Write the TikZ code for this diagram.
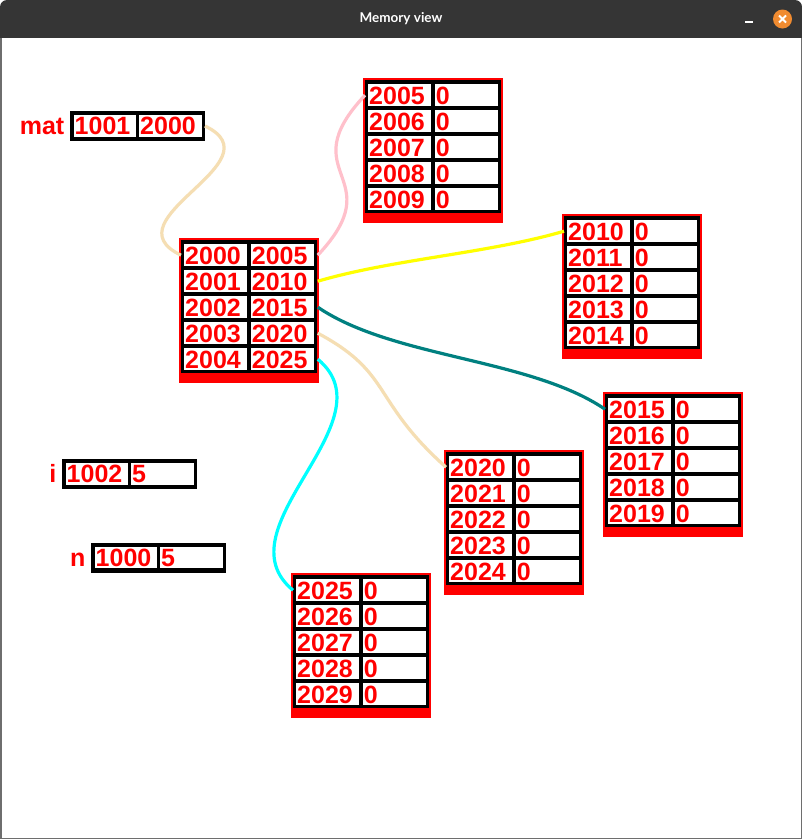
\documentclass[tikz,border=0pt]{standalone}
\usepackage{fontspec}
\setmainfont{Liberation Sans}
\newfontfamily\titlefont{Lato}
\usepackage{tikz}
\usetikzlibrary{positioning,calc}
\definecolor{memred}{HTML}{FF0000}
\definecolor{wheat}{HTML}{F5DEB3}
\definecolor{linkpink}{HTML}{FFC0CB}
\definecolor{linkyellow}{HTML}{FFFF00}
\definecolor{linkteal}{HTML}{008080}
\definecolor{linkcyan}{HTML}{00FFFF}
\definecolor{titlegray}{HTML}{353535}
\definecolor{framegray}{HTML}{6E6E6E}
\definecolor{closeorange}{HTML}{F08B30}
\tikzset{
  cell/.style={anchor=north west,fill=white,text=memred,inner xsep=1pt,inner ysep=0.5pt,
    text width=60.7pt,align=left,text height=19.5pt,text depth=1.5pt,
    font=\fontsize{25}{25}\selectfont\bfseries},
  smallcell/.style={cell,text width=60.5pt,text height=19pt},
  varname/.style={anchor=base east,inner sep=0pt,text=memred,font=\fontsize{25}{25}\selectfont\bfseries},
  link/.style={line width=3.2pt}
}

\begin{document}
\begin{tikzpicture}[x=1pt,y=-1pt]
    \useasboundingbox (0,0) rectangle (802,839);
    % window
    \fill[white] (0,30) rectangle (802,839);
    \fill[titlegray,rounded corners=7pt] (0,0) rectangle (802,20);
    \fill[titlegray] (0,10) rectangle (802,38);
    \draw[framegray,line width=1.5pt] (0.75,38) -- (0.75,838.25) -- (801.25,838.25) -- (801.25,38);
    \node[text=white,font=\titlefont\bfseries\fontsize{13.5}{14}\selectfont] (title) at (401,19) {Memory view};
    \fill[white] (745,21) rectangle (753,23);
    \fill[closeorange] (782.5,19) circle (9.5pt);
    \draw[white,line width=1.8pt] (779,15.5) -- (786,22.5) (779,22.5) -- (786,15.5);
    % memory blocks
    \foreach \bx/\by/\base/\ptr in {179/238/2000/1,363/78/2005/0,562/214/2010/0,603/392/2015/0,444/450/2020/0,291/573/2025/0}{
      \fill[memred] (\bx,\by) rectangle ++(140,145);
      \fill[black] (\bx+2,\by+2) rectangle ++(136,133);
      \foreach \r in {0,...,4}{
        \pgfmathtruncatemacro\addr{\base+\r}
        \pgfmathtruncatemacro\val{\ptr*(2005+5*\r)}
        \node[cell] (a\addr) at (\bx+5,\by+6+26*\r) {\addr};
        \node[cell] (v\addr) at (\bx+71.7,\by+6+26*\r) {\val};
      }
    }
    % variables
    \foreach \nm/\bx/\by/\addr/\val in {mat/69.5/111/1001/2000,i/61.5/459/1002/5,n/90.5/542.5/1000/5}{
      \fill[black] (\bx,\by) rectangle ++(135,30);
      \node[smallcell] (\nm a) at (\bx+4,\by+4) {\addr};
      \node[smallcell] (\nm v) at (\bx+69.5,\by+4) {\val};
      \node[varname] (\nm lbl) at ([xshift=-9pt]\nm a.base west) {\nm};
    }
    % pointers
    \draw[link,wheat] ([xshift=3pt]matv.east) .. controls +(75,36) and +(-75,-36) .. ([xshift=-3pt]a2000.west);
    \foreach \src/\dst/\col/\bo/\bi in {2000/2005/linkpink/-80/80,2001/2010/linkyellow/-22/22,2002/2015/linkteal/51/-51,2003/2020/wheat/40/-67,2004/2025/linkcyan/62/-62}{
      \draw[link,\col] ([xshift=4pt]v\src.east) .. controls +(75,\bo) and +(-75,\bi) .. ([xshift=-3pt]a\dst.west);
    }
  \end{tikzpicture}
\end{document}
